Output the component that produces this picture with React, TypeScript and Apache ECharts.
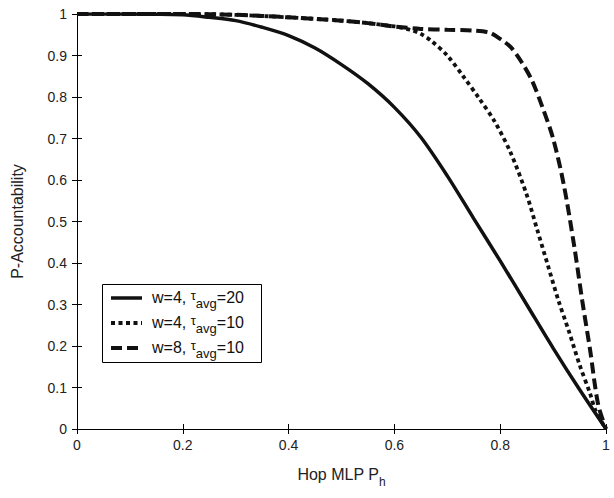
import React, { useEffect, useRef } from "react";
import * as echarts from "echarts";

// axis ticks
const xTicks = [0, 0.2, 0.4, 0.6, 0.8, 1];
const yTicks = [0, 0.1, 0.2, 0.3, 0.4, 0.5, 0.6, 0.7, 0.8, 0.9, 1];

// Series 1: w=4, tau_avg=20 (solid)
const xSolid = [0, 0.1, 0.2, 0.25, 0.3, 0.35, 0.4, 0.45, 0.5, 0.55, 0.6, 0.65, 0.7, 0.75, 0.8, 0.85, 0.9, 0.95, 1];
const ySolid = [1, 1, 0.998, 0.992, 0.984, 0.968, 0.948, 0.918, 0.878, 0.832, 0.775, 0.703, 0.61, 0.507, 0.405, 0.3, 0.195, 0.095, 0];

// Series 2: w=4, tau_avg=10 (dotted)
const xDotted = [0, 0.2, 0.3, 0.4, 0.5, 0.55, 0.6, 0.63, 0.65, 0.67, 0.7, 0.73, 0.76, 0.79, 0.82, 0.85, 0.87, 0.89, 0.91, 0.93, 0.95, 0.97, 0.98, 1];
const yDotted = [1, 1, 0.998, 0.992, 0.984, 0.978, 0.97, 0.962, 0.952, 0.935, 0.9, 0.85, 0.797, 0.74, 0.665, 0.565, 0.48, 0.395, 0.31, 0.235, 0.155, 0.085, 0.045, 0];

// Series 3: w=8, tau_avg=10 (dashed)
const xDashed = [0, 0.2, 0.3, 0.4, 0.5, 0.55, 0.6, 0.65, 0.7, 0.75, 0.78, 0.8, 0.82, 0.84, 0.86, 0.88, 0.9, 0.92, 0.94, 0.955, 0.97, 0.985, 1];
const yDashed = [1, 1, 0.998, 0.992, 0.984, 0.978, 0.97, 0.964, 0.962, 0.96, 0.955, 0.94, 0.92, 0.885, 0.84, 0.775, 0.7, 0.59, 0.44, 0.31, 0.19, 0.06, 0];

const seriesNames = ["w=4, τavg=20", "w=4, τavg=10", "w=8, τavg=10"];
const seriesW = ["4", "4", "8"];
const seriesTau = ["20", "10", "10"];

const FONT = "'Liberation Sans', Arial, Helvetica, sans-serif";
const INK = "#111";

const lineStyles = [
  { color: INK, width: 3.5, type: "solid" as any },
  { color: INK, width: 3.8, type: [4, 3.5] as any },
  { color: INK, width: 4, type: [11, 5] as any },
];

function zip(xs: number[], ys: number[]) {
  return xs.map((x, i) => [x, ys[i]]);
}

export default function App() {
  const ref = useRef<HTMLDivElement>(null);
  useEffect(() => {
    if (!ref.current) return;
    const chart = echarts.init(ref.current, undefined, { renderer: "svg" });
    const axisCommon = {
      axisLine: { show: true, lineStyle: { color: "#000", width: 1 } },
      axisTick: { show: true, inside: true, length: 5, lineStyle: { color: "#000" } },
      splitLine: { show: false },
    };

    // legend drawn as graphic elements
    const legLeft = 102, legTop = 284, legW = 159, legH = 78;
    const rowY = [298, 323, 348];
    const legendRich = {
      n: { fontSize: 16, lineHeight: 17, verticalAlign: "top", fill: INK, fontFamily: FONT },
      t: { fontSize: 13, lineHeight: 17, verticalAlign: "top", fill: INK, fontFamily: FONT },
      s: { fontSize: 13, lineHeight: 15, padding: [8, 0, 0, 0], verticalAlign: "top", fill: INK, fontFamily: FONT },
    };
    const legendElems: any[] = [
      {
        type: "rect",
        shape: { x: legLeft + 0.5, y: legTop + 0.5, width: legW, height: legH },
        style: { fill: "#fff", stroke: "#000", lineWidth: 1 },
        z: 100,
      },
    ];
    seriesNames.forEach((nm, i) => {
      const ls = lineStyles[i];
      legendElems.push({
        type: "line",
        shape: { x1: 111, y1: rowY[i], x2: 142, y2: rowY[i] },
        style: {
          stroke: ls.color,
          lineWidth: ls.width,
          lineDash: Array.isArray(ls.type) ? ls.type : null,
          lineCap: "butt",
        },
        z: 101,
      });
      legendElems.push({
        type: "text",
        x: 152,
        y: rowY[i] - 9,
        style: {
          text: `{n|w=${seriesW[i]}, }{t|τ}{s|avg}{n|=${seriesTau[i]}}`,
          rich: legendRich,
          fill: INK,
          fontFamily: FONT,
          verticalAlign: "top",
        },
        z: 101,
      });
    });

    const option: any = {
      animation: false,
      backgroundColor: "#fff",
      textStyle: { fontFamily: FONT },
      grid: { left: 77, right: 8, top: 14, bottom: 69, containLabel: false },
      xAxis: [
        {
          type: "value",
          min: xTicks[0],
          max: xTicks[xTicks.length - 1],
          interval: 0.2,
          position: "bottom",
          ...axisCommon,
          axisLabel: { color: "#222", fontSize: 14, margin: 9, fontFamily: FONT },
          name: "{a|Hop MLP P}{s|h}",
          nameLocation: "middle",
          nameGap: 37,
          nameTextStyle: {
            color: "#222",
            fontFamily: FONT,
            rich: {
              a: { fontSize: 16, lineHeight: 18, verticalAlign: "top", color: "#222", fontFamily: FONT },
              s: { fontSize: 12, lineHeight: 14, padding: [10, 0, 0, 0], verticalAlign: "top", color: "#222", fontFamily: FONT },
            },
          },
        },
        {
          type: "value",
          min: xTicks[0],
          max: xTicks[xTicks.length - 1],
          interval: 0.2,
          position: "top",
          ...axisCommon,
          axisLabel: { show: false },
        },
      ],
      yAxis: [
        {
          type: "value",
          min: yTicks[0],
          max: yTicks[yTicks.length - 1],
          interval: 0.1,
          position: "left",
          ...axisCommon,
          axisLabel: { color: "#222", fontSize: 14, margin: 10, fontFamily: FONT },
          name: "P-Accountability",
          nameLocation: "middle",
          nameGap: 52,
          nameTextStyle: { color: "#222", fontSize: 16, fontFamily: FONT },
        },
        {
          type: "value",
          min: yTicks[0],
          max: yTicks[yTicks.length - 1],
          interval: 0.1,
          position: "right",
          ...axisCommon,
          axisLabel: { show: false },
        },
      ],
      graphic: legendElems,
      series: [
        { data: zip(xSolid, ySolid) },
        { data: zip(xDotted, yDotted) },
        { data: zip(xDashed, yDashed) },
      ].map((s, i) => ({
        name: seriesNames[i],
        type: "line",
        xAxisIndex: 0,
        yAxisIndex: 0,
        data: s.data,
        showSymbol: false,
        symbol: "none",
        smooth: 0.3,
        lineStyle: { ...lineStyles[i], cap: "butt" },
        itemStyle: { color: INK },
      })),
    };
    chart.setOption(option);
    return () => chart.dispose();
  }, []);
  return <div ref={ref} style={{ width: 614, height: 498, position: "absolute", left: 0, top: 0 }} />;
}
